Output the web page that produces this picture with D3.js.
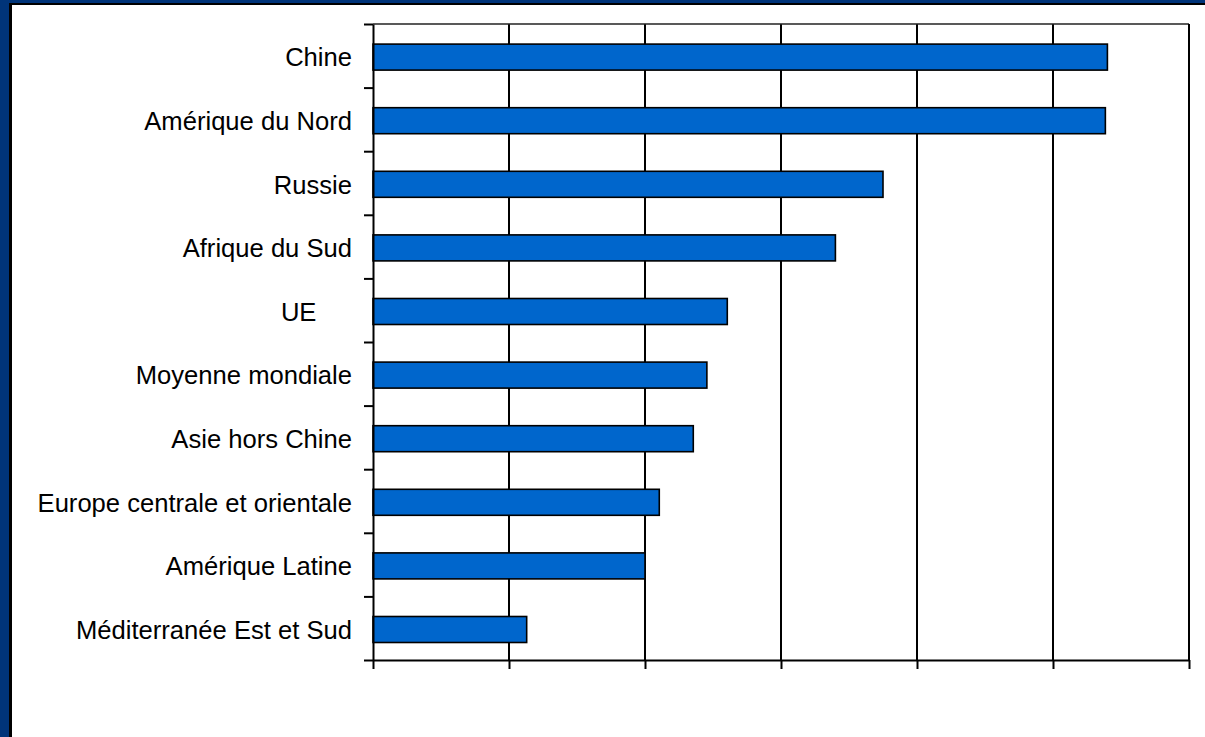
<!DOCTYPE html>
<html><head><meta charset="utf-8">
<script src="https://cdn.jsdelivr.net/npm/d3@7/dist/d3.min.js"></script>
<style>
html,body{margin:0;padding:0;overflow:hidden;background:#fff}
text{font-family:"Liberation Sans",Arial,sans-serif;}
</style></head>
<body>
<svg id="c" width="1205" height="737"></svg>
<script>
const categories = ["Chine","Amérique du Nord","Russie","Afrique du Sud","UE     ","Moyenne mondiale","Asie hors Chine","Europe centrale et orientale","Amérique Latine","Méditerranée Est et Sud"];
const values = [5.40, 5.385, 3.75, 3.40, 2.605, 2.455, 2.355, 2.105, 2.0, 1.13];
const xTicks = [0,1,2,3,4,5,6];

const W = 1205, H = 737;
const svg = d3.select("#c");
svg.append("rect").attr("width",W).attr("height",H).attr("fill","#003479");
svg.append("rect").attr("x",9).attr("y",3).attr("width",W).attr("height",H).attr("fill","#000");
svg.append("rect").attr("x",12).attr("y",5).attr("width",W).attr("height",H).attr("fill","#fff");

const pL = 373, pR = 1189, pT = 24, pB = 660;
const x = d3.scaleLinear().domain([0,6]).range([pL,pR]);
const y = d3.scaleBand().domain(categories).range([pT,pB]).padding(0);
const yb = d3.scaleLinear().domain([0,categories.length]).range([pT,pB]);

// gridlines
svg.append("g").selectAll("line").data(xTicks.slice(1,-1)).join("line")
  .attr("x1",d=>x(d)).attr("x2",d=>x(d)).attr("y1",pT).attr("y2",pB)
  .attr("stroke","#000").attr("stroke-width",1.2).attr("shape-rendering","crispEdges");
// top border
svg.append("line").attr("x1",pL).attr("x2",pR).attr("y1",pT).attr("y2",pT)
  .attr("stroke","#222").attr("stroke-width",1.5);
// right border
svg.append("line").attr("x1",pR).attr("x2",pR).attr("y1",pT).attr("y2",pB)
  .attr("stroke","#000").attr("stroke-width",2);

// bars
const bh = 26;
svg.append("g").selectAll("rect").data(categories).join("rect")
  .attr("x",x(0))
  .attr("y",d=>y(d)+y.bandwidth()/2-bh/2+1.3)
  .attr("width",(d,i)=>x(values[i])-x(0))
  .attr("height",bh)
  .attr("fill","#0066CC").attr("stroke","#000").attr("stroke-width",1.6);

// x axis
const xa = svg.append("g").attr("transform",`translate(0,${pB})`)
  .call(d3.axisBottom(x).tickValues(xTicks).tickSize(9).tickSizeOuter(0).tickFormat(""));
xa.selectAll("path,line").attr("stroke","#000").attr("stroke-width",2);

// y axis ticks at band boundaries
const ya = svg.append("g").attr("transform",`translate(${pL},0)`)
  .call(d3.axisLeft(yb).tickValues(d3.range(categories.length+1)).tickSize(9).tickSizeOuter(0).tickFormat(""));
ya.selectAll("path,line").attr("stroke","#000").attr("stroke-width",2);

// labels
svg.append("g").selectAll("text").data(categories).join("text")
  .attr("x",pL-21)
  .attr("y",d=>y(d)+y.bandwidth()/2+1.5)
  .attr("text-anchor","end").attr("dominant-baseline","central")
  .style("white-space","pre")
  .attr("font-size",25.6).attr("fill","#000")
  .text(d=>d);
</script>
</body></html>
